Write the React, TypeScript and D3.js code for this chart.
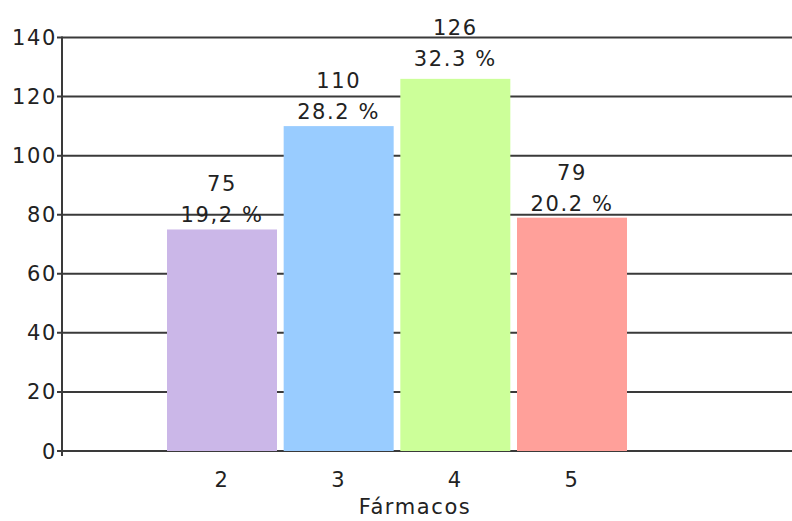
import React from "react";
import * as d3 from "d3";

const categories = [2, 3, 4, 5];
const values = [75, 110, 126, 79];
const percentLabels = ["19,2 %", "28.2 %", "32.3 %", "20.2 %"];
const colors = ["#cbb7e8", "#99ccff", "#ccff99", "#ffa09a"];
const yTicks = [0, 20, 40, 60, 80, 100, 120, 140];

export default function App() {
  const W = 792, H = 521;
  const left = 62, right = 792, top = 37.5, bottom = 451;
  const y = d3.scaleLinear().domain([0, 140]).range([bottom, top]);
  const x = d3.scaleLinear().domain([2, 5]).range([222, 572]);
  const bw = 110;
  const font = "'DejaVu Sans', Verdana, sans-serif";
  const fs = 21;
  const ls = 1.6;
  const maxV = d3.max(values) as number;
  return (
    <svg width={W} height={H} style={{ position: "absolute", left: 0, top: 0 }}>
      <rect width={W} height={H} fill="#fff" />
      {yTicks.map((t) => (
        <g key={t}>
          <line x1={left - 5} x2={right} y1={y(t)} y2={y(t)} stroke="#3a3a3a" strokeWidth={2} />
          <text x={left - 5} y={y(t) + 7.5} textAnchor="end" fontSize={fs} letterSpacing={ls} fontFamily={font} fill="#222">{t}</text>
        </g>
      ))}
      {categories.map((c, i) => (
        <rect key={c} x={x(c) - bw / 2} y={y(values[i])} width={bw} height={bottom - y(values[i])} fill={colors[i]} />
      ))}
      <line x1={left} x2={left} y1={top - 1} y2={bottom + 5} stroke="#3a3a3a" strokeWidth={2} />
      {categories.map((c, i) => {
        const shift = values[i] === maxV ? 6 : 0;
        return (
          <g key={"l" + c} fontFamily={font} fontSize={fs} letterSpacing={ls} fill="#222" textAnchor="middle">
            <text x={x(c)} y={y(values[i]) - 38 - shift}>{values[i]}</text>
            <text x={x(c)} y={y(values[i]) - 7 - shift}>{percentLabels[i]}</text>
            <text x={x(c)} y={487}>{c}</text>
          </g>
        );
      })}
      <text x={415} y={514} textAnchor="middle" fontFamily={font} fontSize={fs} letterSpacing={ls} fill="#222">Fármacos</text>
    </svg>
  );
}
